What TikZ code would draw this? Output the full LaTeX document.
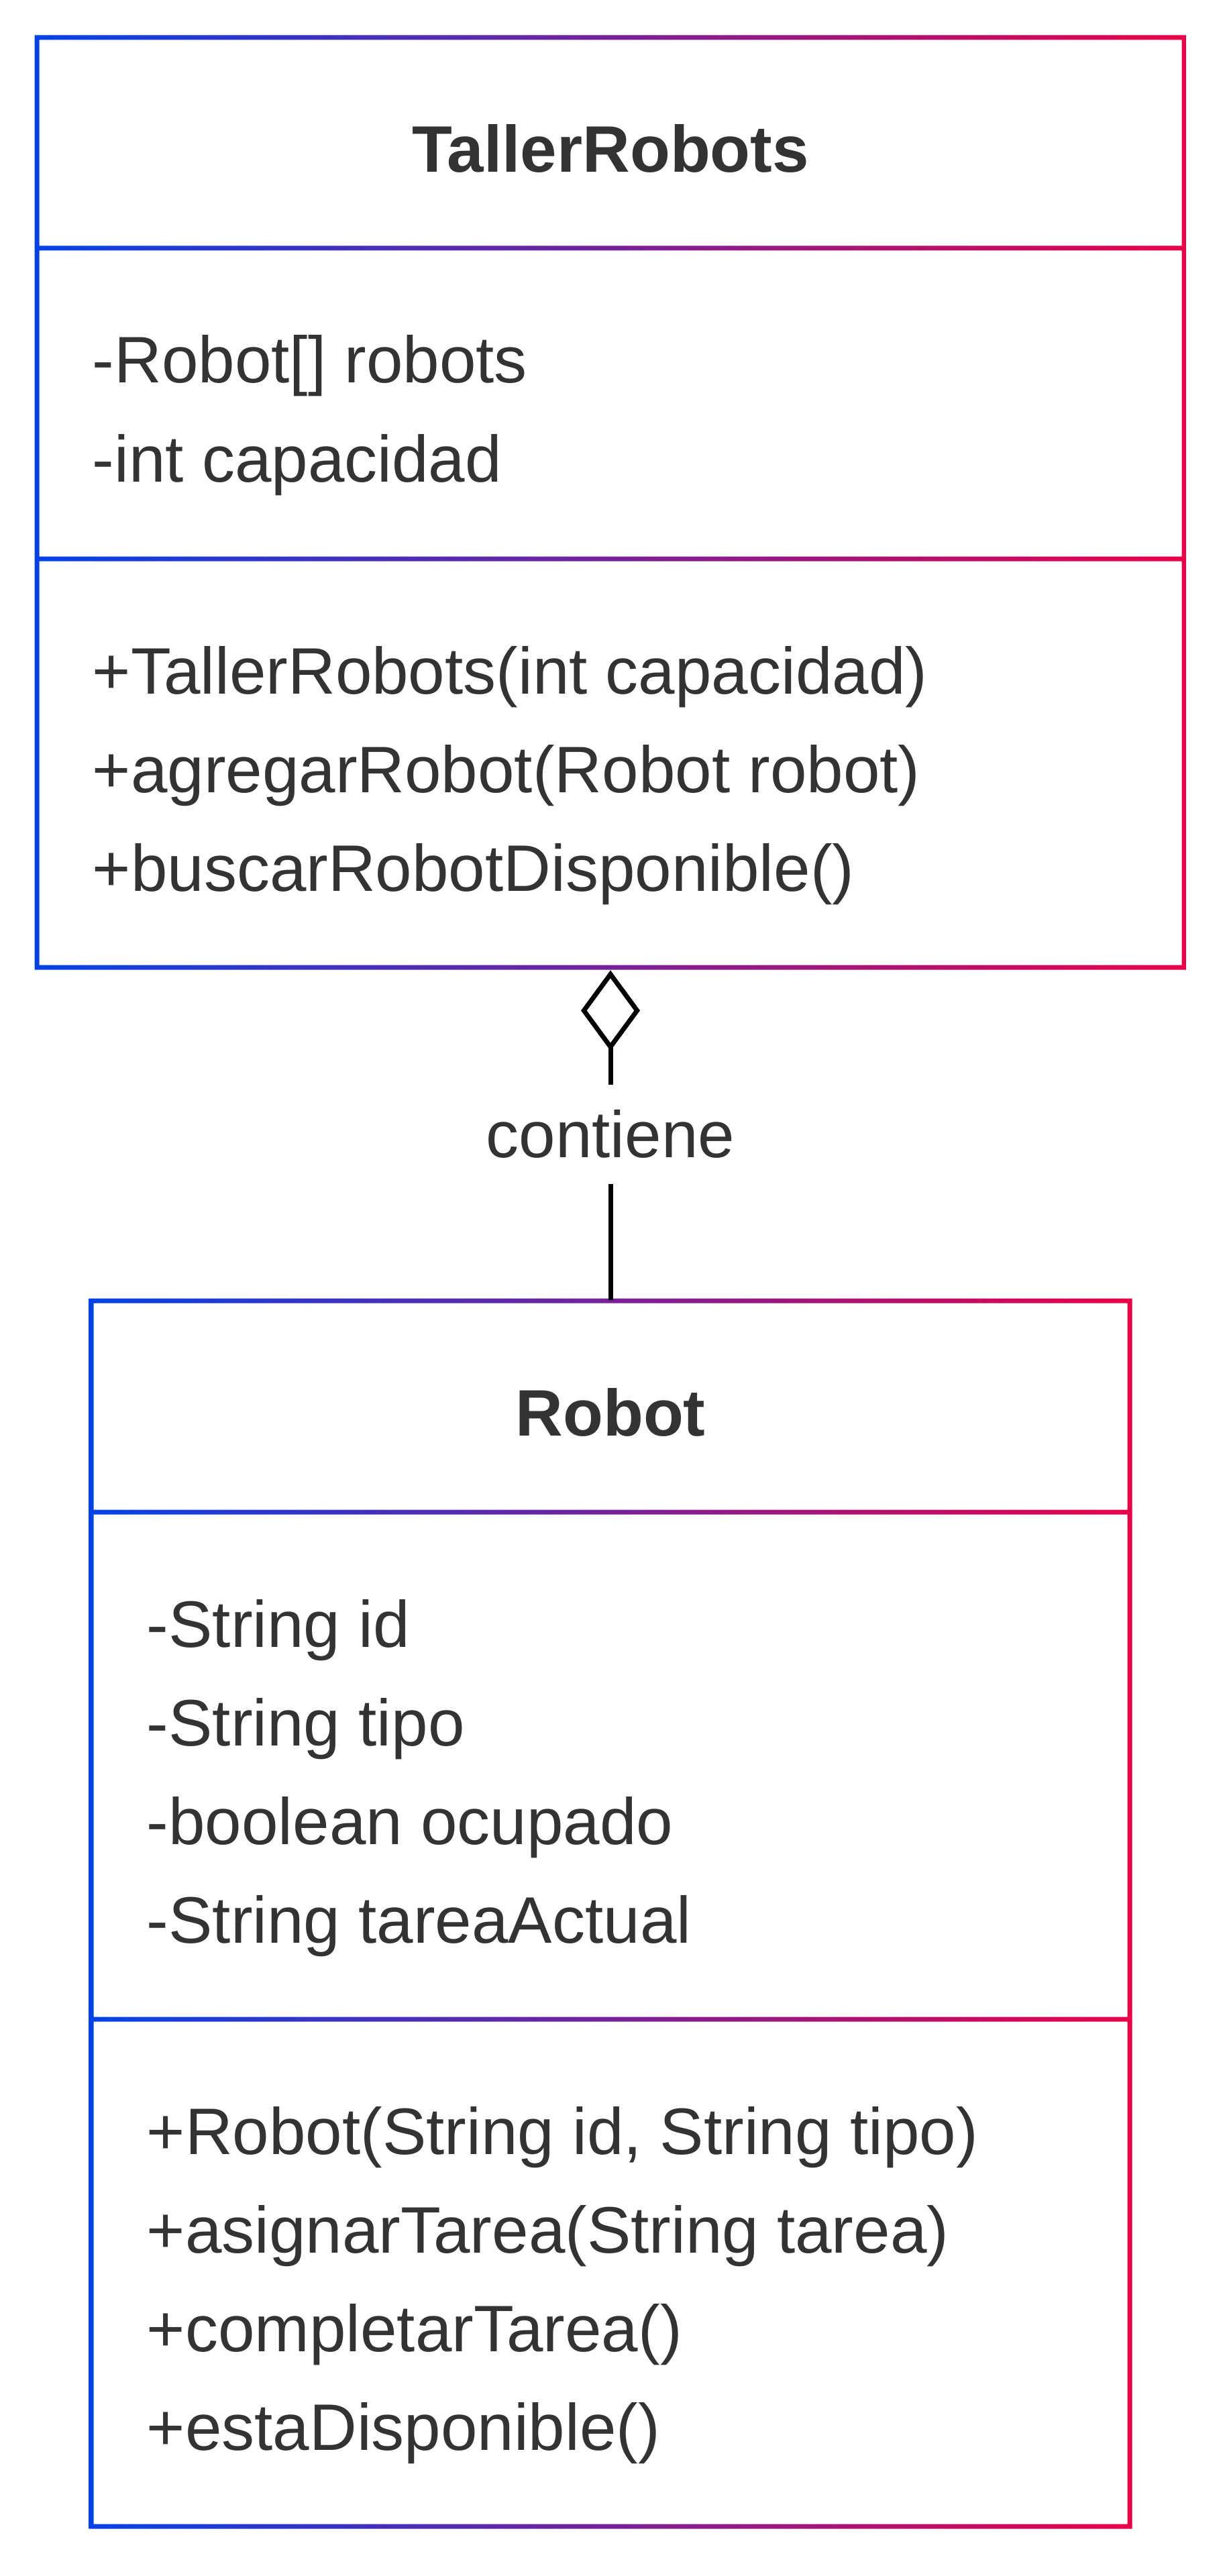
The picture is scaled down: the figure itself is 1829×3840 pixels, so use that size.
\documentclass[tikz,border=0pt]{standalone}
\usepackage{fontspec}
\setmainfont{Liberation Sans}
\usetikzlibrary{arrows.meta,fit}
\definecolor{umlblue}{RGB}{3,66,232}
\definecolor{umlred}{RGB}{234,0,72}
\definecolor{umltext}{RGB}{51,51,51}
% gradient outline of a class box: left, right, top, rule 1, rule 2, bottom
\newcommand{\classframe}[6]{%
  \shade[left color=umlblue,right color=umlred]
    (#1-3.5,#3-3.5) rectangle (#2+3.5,#3+3.5)
    (#1-3.5,#4-3.5) rectangle (#2+3.5,#4+3.5)
    (#1-3.5,#5-3.5) rectangle (#2+3.5,#5+3.5)
    (#1-3.5,#6-3.5) rectangle (#2+3.5,#6+3.5)
    (#1-3.5,#3-3.5) rectangle (#1+3.5,#6+3.5)
    (#2-3.5,#3-3.5) rectangle (#2+3.5,#6+3.5);}

\begin{document}
\begin{tikzpicture}[x=0.25pt,y=-0.25pt,
    member/.style={anchor=base west,inner sep=0pt,text=umltext,font=\fontsize{24.5pt}{29pt}\selectfont},
    classtitle/.style={member,anchor=base,font=\fontsize{24.5pt}{29pt}\selectfont\bfseries},
    edgelabel/.style={fill=white,text=umltext,inner sep=0pt,minimum height=37pt,font=\fontsize{24.5pt}{29pt}\selectfont}]
  \useasboundingbox (0,0) rectangle (1829,3840);
  % TallerRobots
  \classframe{55}{1765}{56}{370}{833}{1442}
  \node[fit={(55,56) (1765,1442)},inner sep=0pt] (taller) {};
  \node[classtitle] (ttitle) at (910,257) {TallerRobots};
  \node[member] (ta1) at (137,571) {-Robot[] robots};
  \node[member] (ta2) at (137,718) {-int capacidad};
  \node[member] (tm1) at (137,1034) {+TallerRobots(int capacidad)};
  \node[member] (tm2) at (137,1181) {+agregarRobot(Robot robot)};
  \node[member] (tm3) at (137,1328) {+buscarRobotDisponible()};
  % Robot
  \classframe{136}{1684}{1939}{2254}{3010}{3766}
  \node[fit={(136,1939) (1684,3766)},inner sep=0pt] (robot) {};
  \node[classtitle] (rtitle) at (910,2140) {Robot};
  \node[member] (ra1) at (218,2455) {-String id};
  \node[member] (ra2) at (218,2602) {-String tipo};
  \node[member] (ra3) at (218,2749) {-boolean ocupado};
  \node[member] (ra4) at (218,2896) {-String tareaActual};
  \node[member] (rm1) at (218,3211) {+Robot(String id, String tipo)};
  \node[member] (rm2) at (218,3358) {+asignarTarea(String tarea)};
  \node[member] (rm3) at (218,3505) {+completarTarea()};
  \node[member] (rm4) at (218,3652) {+estaDisponible()};
  % aggregation
  \draw[line width=1.75pt,shorten >=0.9pt,-{Diamond[fill=white,length=30pt,width=22pt]}]
    (robot.north) -- node[edgelabel] (lbl) {contiene} (taller.south);
\end{tikzpicture}
\end{document}
